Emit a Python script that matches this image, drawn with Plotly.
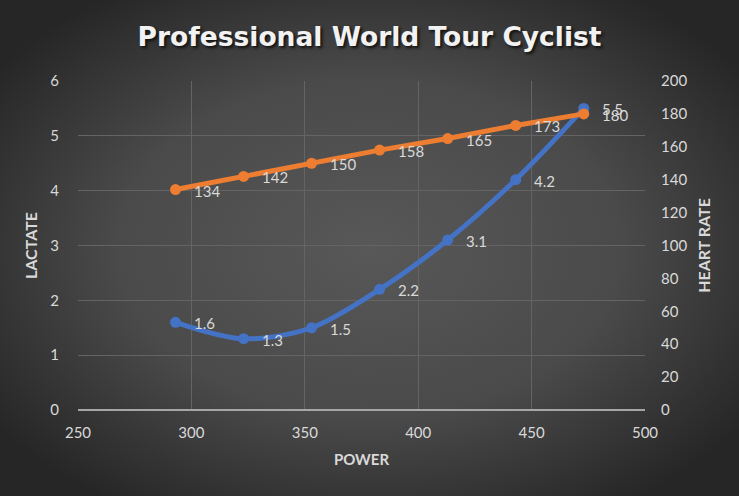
import base64
import plotly.graph_objects as go

power = [293, 323, 353, 383, 413, 443, 473]
lactate = [1.6, 1.3, 1.5, 2.2, 3.1, 4.2, 5.5]
heart_rate = [134, 142, 150, 158, 165, 173, 180]

W, H = 739, 496
ML, MR, MT, MB = 78, 94, 81, 86
PW, PH = W - ML - MR, H - MT - MB

BLUE = "#4472C4"
ORANGE = "#ED7D31"
TXT = "#D9D9D9"
GRID = "#646464"
FONT = "Lato, 'Open Sans', sans-serif"

svg = f'''<svg xmlns="http://www.w3.org/2000/svg" width="{W}" height="{H}" viewBox="0 0 {W} {H}" preserveAspectRatio="none">
<defs><radialGradient id="g" cx="50%" cy="50%" r="62%" fx="50%" fy="50%">
<stop offset="0%" stop-color="#585858"/><stop offset="55%" stop-color="#4a4a4a"/><stop offset="100%" stop-color="#262626"/>
</radialGradient></defs><rect width="{W}" height="{H}" fill="url(#g)"/></svg>'''
bg = "data:image/svg+xml;base64," + base64.b64encode(svg.encode()).decode()

fig = go.Figure()
fig.add_trace(go.Scatter(
    x=power, y=lactate, name="Lactate", mode="lines+markers",
    line=dict(color=BLUE, width=5, shape="spline", smoothing=0.9),
    marker=dict(color=BLUE, size=11), yaxis="y", hoverinfo="skip"))
fig.add_trace(go.Scatter(
    x=power, y=heart_rate, name="Heart rate", mode="lines+markers",
    line=dict(color=ORANGE, width=5),
    marker=dict(color=ORANGE, size=11), yaxis="y2", hoverinfo="skip"))

annotations = []
for xv, yv in zip(power, lactate):
    annotations.append(dict(x=xv, y=yv, xref="x", yref="y", text=f"{yv:g}",
                            showarrow=False, xanchor="left", yanchor="middle",
                            xshift=16, yshift=-1, font=dict(color=TXT, size=15, family=FONT)))
for xv, yv in zip(power, heart_rate):
    annotations.append(dict(x=xv, y=yv, xref="x", yref="y2", text=f"{yv:g}",
                            showarrow=False, xanchor="left", yanchor="middle",
                            xshift=16, yshift=-1, font=dict(color=TXT, size=15, family=FONT)))

fig.update_layout(
    width=W, height=H,
    margin=dict(l=ML, r=MR, t=MT, b=MB),
    paper_bgcolor="#3a3a3a",
    plot_bgcolor="rgba(0,0,0,0)",
    showlegend=False,
    title=dict(text="<b>Professional World Tour Cyclist</b>", x=0.5, xanchor="center",
               y=0.925, yanchor="middle", xref="container",
               font=dict(family="'DejaVu Sans', sans-serif", size=26.5, color="#F2F2F2",
                         shadow="2px 2px 3px #111")),
    font=dict(family=FONT, color=TXT, size=14),
    xaxis=dict(range=[250, 500], dtick=50, tick0=250, showgrid=True, gridcolor=GRID,
               gridwidth=1, zeroline=False, showline=False, ticks="", ticklabelstandoff=12,
               tickfont=dict(size=15, color=TXT),
               title=dict(text="<b>POWER</b>", font=dict(size=15, color=TXT), standoff=14)),
    yaxis=dict(range=[0, 6], dtick=1, showgrid=True, gridcolor=GRID, gridwidth=1,
               zeroline=False, showline=False, ticks="", ticklabelstandoff=18,
               tickfont=dict(size=15, color=TXT),
               title=dict(text="<b>LACTATE</b>", font=dict(size=16, color=TXT), standoff=8)),
    yaxis2=dict(range=[0, 200], dtick=20, overlaying="y", side="right", showgrid=False,
                zeroline=False, showline=False, ticks="", ticklabelstandoff=15,
                tickfont=dict(size=15, color=TXT),
                title=dict(text="<b>HEART RATE</b>", font=dict(size=16, color=TXT), standoff=12)),
    annotations=annotations,
    images=[dict(source=bg, xref="paper", yref="paper",
                 x=-ML / PW, y=1 + MT / PH, sizex=W / PW, sizey=H / PH,
                 xanchor="left", yanchor="top", sizing="stretch", layer="below")],
    shapes=[dict(type="line", xref="paper", yref="paper", x0=0, x1=1, y0=0, y1=0,
                 line=dict(color="#A6A6A6", width=2), layer="above")],
)

fig.write_html("out.html")
